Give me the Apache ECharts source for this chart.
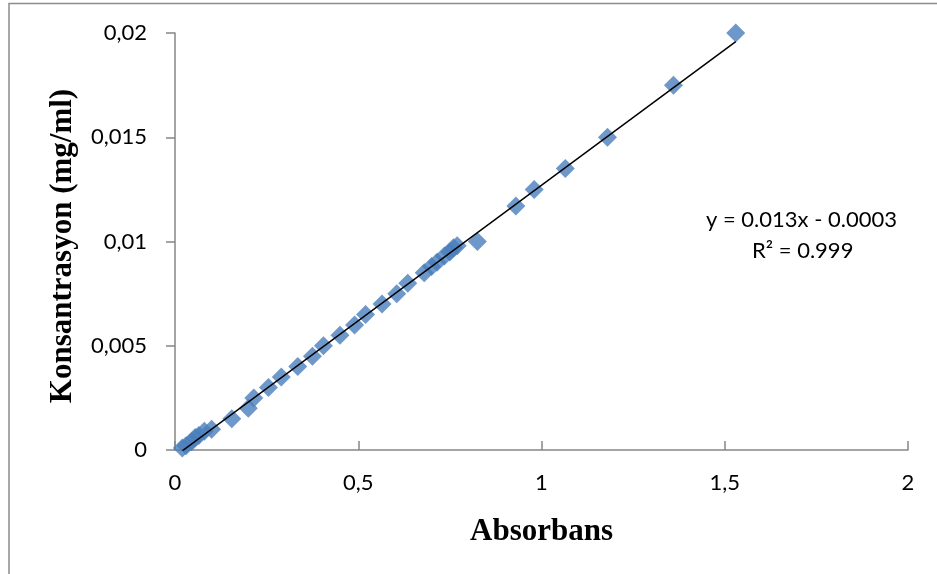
<!DOCTYPE html>
<html>
<head>
<meta charset="utf-8">
<script src="https://cdn.jsdelivr.net/npm/echarts@6/dist/echarts.min.js"></script>
<style>
  html, body { margin: 0; padding: 0; background: #fff; }
  #chart { width: 937px; height: 574px; }
</style>
</head>
<body>
<div id="chart"></div>
<script>
// ölçüm verileri (okunan değerler)
const absorbans = [
  0.02, 0.03, 0.045, 0.055, 0.065, 0.08, 0.1,
  0.155, 0.2, 0.215, 0.255, 0.29, 0.335, 0.375, 0.405, 0.45, 0.49, 0.52,
  0.565, 0.605, 0.635, 0.68, 0.7, 0.715, 0.735, 0.75, 0.76, 0.77,
  0.825, 0.93, 0.98, 1.065, 1.18, 1.36, 1.53
];
const konsantrasyon = [
  0.0001, 0.0002, 0.0004, 0.0006, 0.0007, 0.0009, 0.001,
  0.0015, 0.002, 0.0025, 0.003, 0.0035, 0.004, 0.0045, 0.005, 0.0055, 0.006, 0.0065,
  0.007, 0.0075, 0.008, 0.0085, 0.0088, 0.009, 0.0093, 0.0095, 0.0097, 0.0098,
  0.01, 0.0117, 0.0125, 0.0135, 0.015, 0.0175, 0.02
];
const yTicks = [0, 0.005, 0.01, 0.015, 0.02];
const xTicks = [0, 0.5, 1, 1.5, 2];
const trendSlope = 0.013;
const trendIntercept = -0.0003;
const equationText = "y = 0.013x - 0.0003";
const r2Text = "R² = 0.999";
const yTitle = "Konsantrasyon (mg/ml)";

const fmt = (v) => String(v).replace(".", ",");

const xMin = Math.min(...absorbans);
const xMax = Math.max(...absorbans);
const trend = [
  [xMin, trendSlope * xMin + trendIntercept],
  [xMax, trendSlope * xMax + trendIntercept],
];

const chart = echarts.init(document.getElementById("chart"));

const labelFont = "Lato";
const titleFont = "Liberation Serif";

chart.setOption({
  animation: false,
  grid: { left: 175, right: 29, top: 33, bottom: 124 },
  xAxis: {
    type: "value",
    min: 0,
    max: 2,
    interval: 0.5,
    name: "Absorbans",
    nameLocation: "middle",
    nameGap: 66,
    nameTextStyle: { fontFamily: titleFont, fontWeight: "bold", fontSize: 31, color: "#000" },
    axisLine: { lineStyle: { color: "#868686", width: 1.5 } },
    axisTick: { inside: true, length: 9, lineStyle: { color: "#868686", width: 1.5 } },
    axisLabel: {
      margin: 22,
      fontFamily: labelFont,
      fontSize: 22,
      color: "#000",
      formatter: (v) => (xTicks.includes(v) ? fmt(v) : ""),
    },
    splitLine: { show: false },
  },
  yAxis: {
    type: "value",
    min: 0,
    max: 0.02,
    interval: 0.005,
    axisLine: { show: true, lineStyle: { color: "#868686", width: 1.5 } },
    axisTick: { show: true, length: 9, lineStyle: { color: "#868686", width: 1.5 } },
    axisLabel: {
      margin: 28,
      fontFamily: labelFont,
      fontSize: 22,
      color: "#000",
      formatter: (v) => {
        const t = yTicks.find((k) => Math.abs(k - v) < 1e-9);
        return t === undefined ? "" : fmt(t);
      },
    },
    splitLine: { show: false },
  },
  series: [
    {
      type: "line",
      data: trend,
      symbol: "none",
      lineStyle: { color: "#000", width: 1.5 },
      z: 3,
    },
    {
      type: "scatter",
      data: absorbans.map((x, i) => [x, konsantrasyon[i]]),
      symbol: "diamond",
      symbolSize: [19, 19],
      itemStyle: { color: "#4A7EBB" },
      z: 2,
    },
  ],
  graphic: [
    {
      type: "polyline",
      shape: { points: [[9, 600], [9, 3.5], [940, 3.5]] },
      style: { stroke: "#8c8c8c", lineWidth: 1.5, fill: null },
    },
    {
      // eksen başlığı (dikey)
      type: "text",
      x: 63,
      y: 246,
      rotation: Math.PI / 2,
      style: {
        text: yTitle,
        fontFamily: titleFont,
        fontWeight: "bold",
        fontSize: 31,
        fill: "#000",
        align: "center",
        verticalAlign: "middle",
      },
    },
    {
      type: "text",
      left: 706,
      top: 209,
      style: { text: equationText, fontFamily: labelFont, fontSize: 22, fill: "#000" },
    },
    {
      type: "text",
      left: 752,
      top: 240,
      style: { text: r2Text, fontFamily: labelFont, fontSize: 22, fill: "#000" },
    },
  ],
});
</script>
</body>
</html>
